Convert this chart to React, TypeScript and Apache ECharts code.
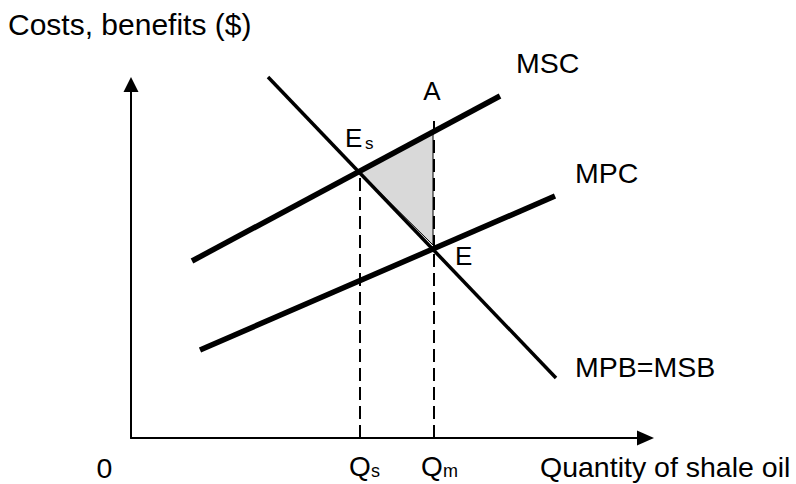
import React, { useEffect, useRef } from "react";
import * as echarts from "echarts";

// Values are in plotting units measured from the origin of the axes
const mscX = [61, 369];
const mscY = [177, 342];
const mpcX = [69, 424];
const mpcY = [88, 242];
const mpbX = [137, 425];
const mpbY = [361, 60];
const triangleX = [228, 302, 302];
const triangleY = [266, 306, 193];
const qsX = 229;
const qsTop = 266;
const qmX = 303;
const qmTop = 321;
const xMax = 514.5;
const yMax = 353.5;

const FONT = "Liberation Sans, Arial, Helvetica, sans-serif";

function txt(text: string, x: number, y: number, size: number, align = "left") {
  return {
    type: "text",
    x,
    y,
    z: 10,
    style: {
      text,
      fontSize: size,
      fontFamily: FONT,
      fill: "#000",
      textAlign: align,
      textVerticalAlign: "middle",
      align,
      verticalAlign: "middle",
    },
  };
}

function lineSeries(xs: number[], ys: number[], width: number, dashed = false) {
  return {
    type: "line",
    data: xs.map((x, i) => [x, ys[i]]),
    symbol: "none",
    clip: false,
    silent: true,
    z: dashed ? 4 : 3,
    lineStyle: {
      color: "#000",
      width,
      type: dashed ? [13, 6] : "solid",
    },
  };
}

export default function App() {
  const ref = useRef<HTMLDivElement>(null);
  useEffect(() => {
    if (!ref.current) return;
    const chart = echarts.init(ref.current, null, { renderer: "svg" });
    const axisCommon = {
      type: "value",
      axisLine: {
        show: true,
        onZero: true,
        symbol: ["none", "triangle"],
        symbolSize: [15, 17],
        lineStyle: { color: "#000", width: 2 },
      },
      axisTick: { show: false },
      axisLabel: { show: false },
      splitLine: { show: false },
    };
    chart.setOption({
      animation: false,
      backgroundColor: "#fff",
      grid: { left: 131, top: 84.5, right: 150.5, bottom: 46 },
      xAxis: { ...axisCommon, min: 0, max: xMax },
      yAxis: { ...axisCommon, min: 0, max: yMax, axisLine: { ...axisCommon.axisLine, symbolSize: [15, 15] } },
      series: [
        {
          type: "custom",
          clip: false,
          silent: true,
          z: 1,
          data: [[triangleX[0], triangleY[0]]],
          renderItem: (_params: any, api: any) => {
            const pts = triangleX.map((x, i) => api.coord([x, triangleY[i]]));
            return {
              type: "polygon",
              shape: { points: pts },
              style: { fill: "#d9d9d9", stroke: "#000", lineWidth: 1 },
            };
          },
        },
        lineSeries(mscX, mscY, 5.5),
        lineSeries(mpcX, mpcY, 5.5),
        lineSeries(mpbX, mpbY, 3.5),
        lineSeries([qsX, qsX], [0, qsTop], 2, true),
        lineSeries([qmX, qmX], [0, qmTop], 2, true),
      ],
      graphic: [
        txt("Costs, benefits ($)", 8, 24, 30),
        txt("MSC", 516, 63, 28.5),
        txt("MPC", 575, 172.5, 28.5),
        txt("MPB=MSB", 575, 366.5, 28.5),
        txt("A", 432, 90.5, 26, "center"),
        txt("E", 345, 138, 26),
        txt("s", 365, 143, 17),
        txt("E", 455, 255.5, 26),
        txt("0", 104.5, 467.5, 28.5, "center"),
        txt("Q", 349, 466.5, 28),
        txt("s", 371, 471, 18),
        txt("Q", 421, 466.5, 28),
        txt("m", 443, 471, 18),
        txt("Quantity of shale oil", 540, 467, 28.5),
      ],
    });
    return () => chart.dispose();
  }, []);
  return (
    <div
      ref={ref}
      style={{ position: "absolute", left: 0, top: 0, width: 796, height: 484 }}
    />
  );
}
